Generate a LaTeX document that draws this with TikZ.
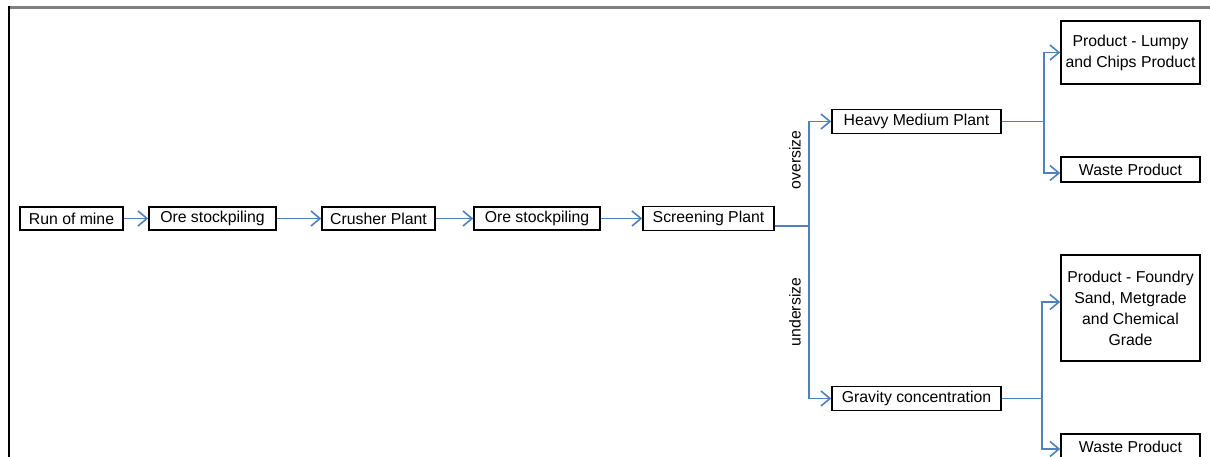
\documentclass[tikz,border=0pt]{standalone}
\usepackage{fontspec}
\setmainfont{Liberation Sans}
\usetikzlibrary{arrows.meta}
\begin{document}
\begin{tikzpicture}[x=1pt,y=-1pt,
  box/.style={draw=black,line width=1.6pt,inner sep=0pt,align=center,
    font=\fontsize{15.8}{21}\selectfont},
  conn/.style={draw={rgb,255:red,79;green,129;blue,189},line width=1.6pt,
    -{Straight Barb[length=9pt,width=15pt,line width=1.6pt]}},
  link/.style={draw={rgb,255:red,79;green,129;blue,189},line width=1.6pt},
  lab/.style={rotate=90,font=\fontsize{15.8}{18}\selectfont}]
\useasboundingbox (0,0) rectangle (1210,457);
\fill[white] (0,0) rectangle (1210,457);
% frame edges
\draw[line width=3pt,color={rgb,255:red,128;green,128;blue,128}] (8,7.5) -- (1212,7.5);
\draw[line width=2pt,black] (9,6) -- (9,460);

% main chain
\node[box,minimum width=103pt,minimum height=23pt] (run)  at (71.5,218.5) {Run of mine};
\node[box,minimum width=127pt,minimum height=23pt] (ore1) at (212.5,218.5) {Ore stockpiling};
\node[box,minimum width=113pt,minimum height=23pt] (crush) at (378.5,218.5) {Crusher Plant};
\node[box,minimum width=126pt,minimum height=23pt] (ore2) at (537,218.5) {Ore stockpiling};
\node[box,minimum width=131pt,minimum height=24pt] (scr)  at (708.5,218.5) {Screening Plant};

% second stage
\node[box,minimum width=169pt,minimum height=24pt] (heavy) at (916.5,121.5) {Heavy Medium Plant};
\node[box,minimum width=169pt,minimum height=24pt] (grav)  at (916.5,398.5) {Gravity concentration};

% products
\node[box,minimum width=139pt,minimum height=63pt] (lumpy) at (1130.5,52.5) {Product - Lumpy\\and Chips Product};
\node[box,minimum width=139pt,minimum height=25pt] (waste1) at (1130.5,169.5) {Waste Product};
\node[box,minimum width=139pt,minimum height=106pt] (foundry) at (1130.5,308) {Product - Foundry\\Sand, Metgrade\\and Chemical\\Grade};
\node[box,minimum width=139pt,minimum height=25pt] (waste2) at (1130.5,446.5) {Waste Product};

% chain arrows
\draw[conn] (run) -- (ore1);
\draw[conn] (ore1) -- (crush);
\draw[conn] (crush) -- (ore2);
\draw[conn] (ore2) -- (scr);

% screening split
\coordinate (split1) at (809,226);
\draw[link] ([yshift=-7.5pt]scr.east) -- (split1);
\draw[conn] (split1) |- (heavy.west);
\draw[conn] (split1) |- (grav.west);
\node[lab] (over)  at (795,160) {oversize};
\node[lab] (under) at (795,312) {undersize};

% heavy medium split
\coordinate (split2) at (1044,122);
\draw[link] (heavy.east) -- (heavy.east -| split2);
\draw[conn] (heavy.east -| split2) |- (lumpy.west);
\draw[conn] (heavy.east -| split2) |- ([yshift=-3.5pt]waste1.west);

% gravity split
\coordinate (split3) at (1042,399);
\draw[link] (grav.east) -- (grav.east -| split3);
\draw[conn] (grav.east -| split3) |- ([yshift=6pt]foundry.west);
\draw[conn] (grav.east -| split3) |- ([yshift=-2.5pt]waste2.west);
\end{tikzpicture}
\end{document}
